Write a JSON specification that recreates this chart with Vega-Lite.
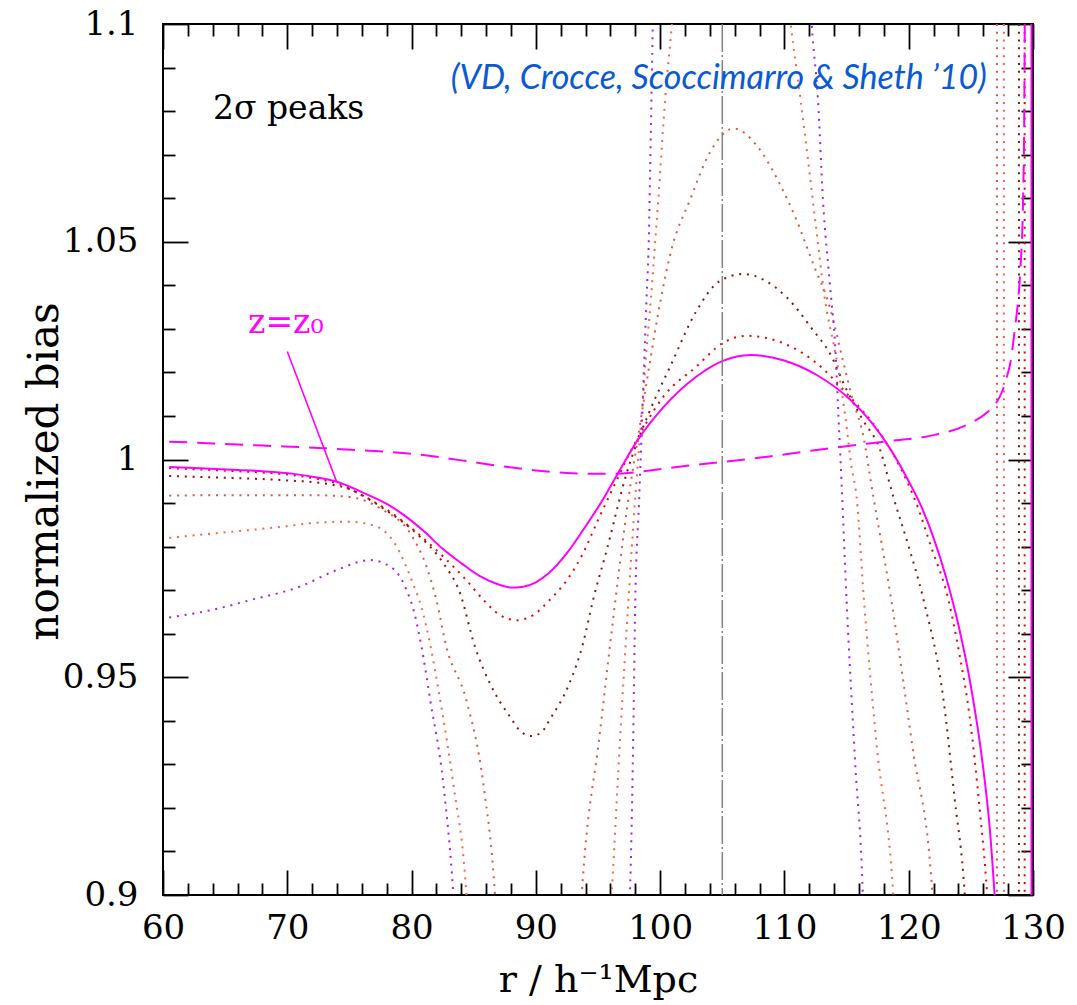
{
"$schema": "https://vega.github.io/schema/vega-lite/v6.json",
"width": 870, "height": 871,
"autosize": {"type": "none"},
"padding": {"left": 163, "top": 24, "right": 44, "bottom": 110},
"background": "white",
"config": {
 "view": {"stroke": "black", "strokeWidth": 2},
 "axis": {"domain": false, "grid": false, "tickColor": "black", "tickWidth": 1.8, "labelFont": "DejaVu Serif", "labelFontSize": 34, "labelColor": "black", "titleFont": "DejaVu Serif", "titleFontSize": 38, "titleFontWeight": "normal", "titleColor": "black", "labelFlush": false, "labelOverlap": false}
},
"datasets": {
 "curves": [
  {"c":"S","s":"S1","r":60.5,"b":0.9983},{"c":"S","s":"S1","r":63,"b":0.998},{"c":"S","s":"S1","r":66,"b":0.9976},{"c":"S","s":"S1","r":68,"b":0.9973},{"c":"S","s":"S1","r":70.5,"b":0.9967},{"c":"S","s":"S1","r":72.5,"b":0.9958},{"c":"S","s":"S1","r":74,"b":0.9949},{"c":"S","s":"S1","r":76,"b":0.9925},{"c":"S","s":"S1","r":78,"b":0.9898},{"c":"S","s":"S1","r":79.5,"b":0.987},{"c":"S","s":"S1","r":81,"b":0.9835},{"c":"S","s":"S1","r":82.5,"b":0.9795},{"c":"S","s":"S1","r":84,"b":0.9762},{"c":"S","s":"S1","r":85.5,"b":0.9732},{"c":"S","s":"S1","r":87,"b":0.9713},{"c":"S","s":"S1","r":88,"b":0.9706},{"c":"S","s":"S1","r":89,"b":0.9708},{"c":"S","s":"S1","r":90,"b":0.9718},{"c":"S","s":"S1","r":91,"b":0.9738},{"c":"S","s":"S1","r":92.5,"b":0.9785},{"c":"S","s":"S1","r":93.8,"b":0.9838},{"c":"S","s":"S1","r":95.2,"b":0.9899},{"c":"S","s":"S1","r":96.6,"b":0.9968},{"c":"S","s":"S1","r":98.2,"b":1.0045},{"c":"S","s":"S1","r":100.2,"b":1.0118},{"c":"S","s":"S1","r":102.9,"b":1.019},{"c":"S","s":"S1","r":105,"b":1.0226},{"c":"S","s":"S1","r":107.3,"b":1.024},{"c":"S","s":"S1","r":109.9,"b":1.0228},{"c":"S","s":"S1","r":112.6,"b":1.0194},{"c":"S","s":"S1","r":115.3,"b":1.0137},{"c":"S","s":"S1","r":117,"b":1.0085},{"c":"S","s":"S1","r":118.5,"b":1.0025},{"c":"S","s":"S1","r":120,"b":0.995},{"c":"S","s":"S1","r":121,"b":0.9893},{"c":"S","s":"S1","r":122,"b":0.982},{"c":"S","s":"S1","r":123,"b":0.973},{"c":"S","s":"S1","r":124,"b":0.962},{"c":"S","s":"S1","r":125,"b":0.948},{"c":"S","s":"S1","r":126,"b":0.929},{"c":"S","s":"S1","r":126.5,"b":0.916},{"c":"S","s":"S1","r":126.9,"b":0.9005},{"c":"S","s":"S1","r":127.0,"b":0.896},
  {"c":"S","s":"S2","r":129.88,"b":0.89},{"c":"S","s":"S2","r":129.88,"b":1.11},
  {"c":"D","s":"D1","r":60.5,"b":1.0041},{"c":"D","s":"D1","r":64,"b":1.0037},{"c":"D","s":"D1","r":68,"b":1.0032},{"c":"D","s":"D1","r":72.9,"b":1.0026},{"c":"D","s":"D1","r":76,"b":1.0021},{"c":"D","s":"D1","r":80.4,"b":1.0012},{"c":"D","s":"D1","r":84,"b":0.9998},{"c":"D","s":"D1","r":87.1,"b":0.9985},{"c":"D","s":"D1","r":90,"b":0.9975},{"c":"D","s":"D1","r":92.5,"b":0.9969},{"c":"D","s":"D1","r":95,"b":0.9967},{"c":"D","s":"D1","r":97,"b":0.9968},{"c":"D","s":"D1","r":99.2,"b":0.9975},{"c":"D","s":"D1","r":102,"b":0.9985},{"c":"D","s":"D1","r":104.9,"b":0.9994},{"c":"D","s":"D1","r":108.5,"b":1.0006},{"c":"D","s":"D1","r":112.6,"b":1.0022},{"c":"D","s":"D1","r":116,"b":1.0034},{"c":"D","s":"D1","r":118,"b":1.0041},{"c":"D","s":"D1","r":122,"b":1.0056},{"c":"D","s":"D1","r":124.65,"b":1.0079},{"c":"D","s":"D1","r":126.3,"b":1.0108},{"c":"D","s":"D1","r":127.0,"b":1.0128},{"c":"D","s":"D1","r":127.5,"b":1.0155},{"c":"D","s":"D1","r":127.9,"b":1.019},{"c":"D","s":"D1","r":128.2,"b":1.0225},{"c":"D","s":"D1","r":128.5,"b":1.029},{"c":"D","s":"D1","r":128.8,"b":1.0366},{"c":"D","s":"D1","r":129.0,"b":1.0443},{"c":"D","s":"D1","r":129.2,"b":1.0596},{"c":"D","s":"D1","r":129.3,"b":1.08},{"c":"D","s":"D1","r":129.35,"b":1.11},
  {"c":"R","s":"R1","r":60.5,"b":0.998},{"c":"R","s":"R1","r":63,"b":0.9977},{"c":"R","s":"R1","r":66,"b":0.9973},{"c":"R","s":"R1","r":68,"b":0.997},{"c":"R","s":"R1","r":70.5,"b":0.9964},{"c":"R","s":"R1","r":72.5,"b":0.9955},{"c":"R","s":"R1","r":74,"b":0.9945},{"c":"R","s":"R1","r":76,"b":0.9918},{"c":"R","s":"R1","r":78,"b":0.9885},{"c":"R","s":"R1","r":80.5,"b":0.983},{"c":"R","s":"R1","r":82.55,"b":0.9777},{"c":"R","s":"R1","r":84.4,"b":0.9723},{"c":"R","s":"R1","r":85.8,"b":0.9677},{"c":"R","s":"R1","r":87.1,"b":0.9643},{"c":"R","s":"R1","r":88.45,"b":0.9631},{"c":"R","s":"R1","r":89.8,"b":0.9643},{"c":"R","s":"R1","r":91.1,"b":0.9677},{"c":"R","s":"R1","r":92.5,"b":0.9723},{"c":"R","s":"R1","r":93.8,"b":0.9785},{"c":"R","s":"R1","r":95.0,"b":0.9861},{"c":"R","s":"R1","r":96.3,"b":0.994},{"c":"R","s":"R1","r":97.4,"b":1.0006},{"c":"R","s":"R1","r":98.8,"b":1.008},{"c":"R","s":"R1","r":100.25,"b":1.0144},{"c":"R","s":"R1","r":102.9,"b":1.0213},{"c":"R","s":"R1","r":105.07,"b":1.0268},{"c":"R","s":"R1","r":106.95,"b":1.0284},{"c":"R","s":"R1","r":109.9,"b":1.0267},{"c":"R","s":"R1","r":112.6,"b":1.0221},{"c":"R","s":"R1","r":115.0,"b":1.0152},{"c":"R","s":"R1","r":117.7,"b":1.006},{"c":"R","s":"R1","r":119.3,"b":0.9983},{"c":"R","s":"R1","r":120.6,"b":0.99},{"c":"R","s":"R1","r":121.8,"b":0.98},{"c":"R","s":"R1","r":123.2,"b":0.9677},{"c":"R","s":"R1","r":124.1,"b":0.955},{"c":"R","s":"R1","r":124.9,"b":0.941},{"c":"R","s":"R1","r":125.7,"b":0.92},{"c":"R","s":"R1","r":126.3,"b":0.9005},{"c":"R","s":"R1","r":126.4,"b":0.896},
  {"c":"R","s":"R2","r":129.33,"b":0.89},{"c":"R","s":"R2","r":129.33,"b":1.11},
  {"c":"B","s":"B1","r":60.5,"b":0.9962},{"c":"B","s":"B1","r":65,"b":0.9958},{"c":"B","s":"B1","r":70,"b":0.9952},{"c":"B","s":"B1","r":73,"b":0.9945},{"c":"B","s":"B1","r":75,"b":0.9932},{"c":"B","s":"B1","r":77.7,"b":0.9888},{"c":"B","s":"B1","r":80.4,"b":0.983},{"c":"B","s":"B1","r":82.55,"b":0.9762},{"c":"B","s":"B1","r":83.9,"b":0.9693},{"c":"B","s":"B1","r":85.1,"b":0.957},{"c":"B","s":"B1","r":86.3,"b":0.9486},{"c":"B","s":"B1","r":87.9,"b":0.941},{"c":"B","s":"B1","r":88.8,"b":0.9375},{"c":"B","s":"B1","r":89.66,"b":0.9365},{"c":"B","s":"B1","r":90.5,"b":0.9375},{"c":"B","s":"B1","r":91.1,"b":0.9402},{"c":"B","s":"B1","r":92.7,"b":0.9486},{"c":"B","s":"B1","r":93.8,"b":0.9578},{"c":"B","s":"B1","r":94.6,"b":0.9677},{"c":"B","s":"B1","r":95.7,"b":0.9792},{"c":"B","s":"B1","r":97.3,"b":0.9968},{"c":"B","s":"B1","r":99.2,"b":1.0114},{"c":"B","s":"B1","r":100.8,"b":1.0213},{"c":"B","s":"B1","r":102.9,"b":1.034},{"c":"B","s":"B1","r":104.8,"b":1.041},{"c":"B","s":"B1","r":106.7,"b":1.0426},{"c":"B","s":"B1","r":108.5,"b":1.041},{"c":"B","s":"B1","r":110.2,"b":1.0372},{"c":"B","s":"B1","r":112.3,"b":1.0297},{"c":"B","s":"B1","r":113.65,"b":1.0244},{"c":"B","s":"B1","r":115.0,"b":1.016},{"c":"B","s":"B1","r":116.3,"b":1.0091},{"c":"B","s":"B1","r":117.7,"b":1.0022},{"c":"B","s":"B1","r":118.75,"b":0.9915},{"c":"B","s":"B1","r":120.0,"b":0.98},{"c":"B","s":"B1","r":121.2,"b":0.9677},{"c":"B","s":"B1","r":122.8,"b":0.9448},{"c":"B","s":"B1","r":123.7,"b":0.922},{"c":"B","s":"B1","r":124.5,"b":0.9005},{"c":"B","s":"B1","r":124.6,"b":0.896},
  {"c":"B","s":"B2","r":128.87,"b":0.89},{"c":"B","s":"B2","r":128.87,"b":1.11},
  {"c":"TA","s":"TA1","r":60.5,"b":0.9917},{"c":"TA","s":"TA1","r":64,"b":0.9918},{"c":"TA","s":"TA1","r":68,"b":0.9918},{"c":"TA","s":"TA1","r":72.4,"b":0.9918},{"c":"TA","s":"TA1","r":75,"b":0.9914},{"c":"TA","s":"TA1","r":77.7,"b":0.9884},{"c":"TA","s":"TA1","r":79.9,"b":0.983},{"c":"TA","s":"TA1","r":81.2,"b":0.9754},{"c":"TA","s":"TA1","r":82.0,"b":0.9677},{"c":"TA","s":"TA1","r":82.8,"b":0.957},{"c":"TA","s":"TA1","r":84.4,"b":0.9448},{"c":"TA","s":"TA1","r":85.77,"b":0.9256},{"c":"TA","s":"TA1","r":86.7,"b":0.9005},{"c":"TA","s":"TA1","r":86.8,"b":0.896},
  {"c":"TA","s":"TA2","r":93.6,"b":0.896},{"c":"TA","s":"TA2","r":93.7,"b":0.9005},{"c":"TA","s":"TA2","r":95.15,"b":0.9371},{"c":"TA","s":"TA2","r":96.4,"b":0.9677},{"c":"TA","s":"TA2","r":97.4,"b":0.99},{"c":"TA","s":"TA2","r":98.4,"b":1.0083},{"c":"TA","s":"TA2","r":99.2,"b":1.0228},{"c":"TA","s":"TA2","r":100.0,"b":1.036},{"c":"TA","s":"TA2","r":100.9,"b":1.0481},{"c":"TA","s":"TA2","r":102.4,"b":1.0596},{"c":"TA","s":"TA2","r":104.0,"b":1.0705},{"c":"TA","s":"TA2","r":105.9,"b":1.076},{"c":"TA","s":"TA2","r":107.8,"b":1.072},{"c":"TA","s":"TA2","r":109.6,"b":1.0634},{"c":"TA","s":"TA2","r":110.97,"b":1.055},{"c":"TA","s":"TA2","r":112.3,"b":1.045},{"c":"TA","s":"TA2","r":113.65,"b":1.035},{"c":"TA","s":"TA2","r":114.7,"b":1.0228},{"c":"TA","s":"TA2","r":115.5,"b":1.0137},{"c":"TA","s":"TA2","r":116.3,"b":1.006},{"c":"TA","s":"TA2","r":117.15,"b":0.9915},{"c":"TA","s":"TA2","r":118.6,"b":0.9677},{"c":"TA","s":"TA2","r":120.3,"b":0.934},{"c":"TA","s":"TA2","r":121.9,"b":0.9005},{"c":"TA","s":"TA2","r":122.0,"b":0.896},
  {"c":"TA","s":"TA3","r":127.1,"b":0.89},{"c":"TA","s":"TA3","r":127.1,"b":1.11},
  {"c":"TB","s":"TB1","r":60.5,"b":0.982},{"c":"TB","s":"TB1","r":64,"b":0.983},{"c":"TB","s":"TB1","r":67,"b":0.9838},{"c":"TB","s":"TB1","r":70,"b":0.9847},{"c":"TB","s":"TB1","r":72.4,"b":0.9855},{"c":"TB","s":"TB1","r":75,"b":0.9857},{"c":"TB","s":"TB1","r":77.2,"b":0.9846},{"c":"TB","s":"TB1","r":78.8,"b":0.98},{"c":"TB","s":"TB1","r":80.1,"b":0.9716},{"c":"TB","s":"TB1","r":80.8,"b":0.966},{"c":"TB","s":"TB1","r":81.5,"b":0.9575},{"c":"TB","s":"TB1","r":82.3,"b":0.9448},{"c":"TB","s":"TB1","r":83.35,"b":0.9256},{"c":"TB","s":"TB1","r":84.4,"b":0.9005},{"c":"TB","s":"TB1","r":84.5,"b":0.896},
  {"c":"TB","s":"TB2","r":96.0,"b":0.896},{"c":"TB","s":"TB2","r":96.1,"b":0.9005},{"c":"TB","s":"TB2","r":96.8,"b":0.9371},{"c":"TB","s":"TB2","r":97.45,"b":0.9677},{"c":"TB","s":"TB2","r":98.0,"b":0.9915},{"c":"TB","s":"TB2","r":98.5,"b":1.0098},{"c":"TB","s":"TB2","r":98.9,"b":1.0251},{"c":"TB","s":"TB2","r":99.25,"b":1.0366},{"c":"TB","s":"TB2","r":99.55,"b":1.0481},{"c":"TB","s":"TB2","r":99.85,"b":1.0596},{"c":"TB","s":"TB2","r":100.4,"b":1.0826},{"c":"TB","s":"TB2","r":100.95,"b":1.1},{"c":"TB","s":"TB2","r":101.1,"b":1.105},
  {"c":"TB","s":"TB3","r":110.3,"b":1.105},{"c":"TB","s":"TB3","r":110.5,"b":1.1},{"c":"TB","s":"TB3","r":111.3,"b":1.0826},{"c":"TB","s":"TB3","r":111.8,"b":1.0711},{"c":"TB","s":"TB3","r":112.6,"b":1.052},{"c":"TB","s":"TB3","r":113.2,"b":1.038},{"c":"TB","s":"TB3","r":114.3,"b":1.0213},{"c":"TB","s":"TB3","r":114.9,"b":1.0098},{"c":"TB","s":"TB3","r":115.4,"b":0.9983},{"c":"TB","s":"TB3","r":115.8,"b":0.9915},{"c":"TB","s":"TB3","r":116.4,"b":0.9677},{"c":"TB","s":"TB3","r":117.4,"b":0.935},{"c":"TB","s":"TB3","r":118.75,"b":0.9005},{"c":"TB","s":"TB3","r":118.85,"b":0.896},
  {"c":"TB","s":"TB4","r":127.66,"b":0.89},{"c":"TB","s":"TB4","r":127.66,"b":1.11},
  {"c":"P","s":"P1","r":60.5,"b":0.9637},{"c":"P","s":"P1","r":64,"b":0.9655},{"c":"P","s":"P1","r":67,"b":0.9677},{"c":"P","s":"P1","r":71,"b":0.9708},{"c":"P","s":"P1","r":73.97,"b":0.9746},{"c":"P","s":"P1","r":76.65,"b":0.9769},{"c":"P","s":"P1","r":78.3,"b":0.9754},{"c":"P","s":"P1","r":79.6,"b":0.97},{"c":"P","s":"P1","r":80.2,"b":0.965},{"c":"P","s":"P1","r":80.8,"b":0.957},{"c":"P","s":"P1","r":81.5,"b":0.9448},{"c":"P","s":"P1","r":82.55,"b":0.9256},{"c":"P","s":"P1","r":83.35,"b":0.9005},{"c":"P","s":"P1","r":83.45,"b":0.896},
  {"c":"P","s":"P2","r":97.5,"b":0.896},{"c":"P","s":"P2","r":97.57,"b":0.9005},{"c":"P","s":"P2","r":97.8,"b":0.93},{"c":"P","s":"P2","r":98.0,"b":0.9677},{"c":"P","s":"P2","r":98.3,"b":0.99},{"c":"P","s":"P2","r":98.5,"b":1.005},{"c":"P","s":"P2","r":98.7,"b":1.0213},{"c":"P","s":"P2","r":98.9,"b":1.0366},{"c":"P","s":"P2","r":99.1,"b":1.052},{"c":"P","s":"P2","r":99.2,"b":1.0672},{"c":"P","s":"P2","r":99.3,"b":1.0826},{"c":"P","s":"P2","r":99.4,"b":1.1},{"c":"P","s":"P2","r":99.42,"b":1.105},
  {"c":"P","s":"P3","r":112.1,"b":1.105},{"c":"P","s":"P3","r":112.2,"b":1.1},{"c":"P","s":"P3","r":112.7,"b":1.0826},{"c":"P","s":"P3","r":113.1,"b":1.0596},{"c":"P","s":"P3","r":113.65,"b":1.0405},{"c":"P","s":"P3","r":114.1,"b":1.0251},{"c":"P","s":"P3","r":114.35,"b":1.0098},{"c":"P","s":"P3","r":114.6,"b":0.9945},{"c":"P","s":"P3","r":115.0,"b":0.9677},{"c":"P","s":"P3","r":115.7,"b":0.93},{"c":"P","s":"P3","r":116.3,"b":0.9005},{"c":"P","s":"P3","r":116.35,"b":0.896}
 ]
},
"resolve": {"axis": {"x": "independent", "y": "independent"}},
"layer": [
 {
  "data": {"name": "curves"},
  "transform": [{"filter": "datum.c != 'S' && datum.c != 'D'"}],
  "mark": {"type": "line", "clip": true, "strokeWidth": 2, "strokeDash": [2, 5.8], "strokeCap": "butt", "interpolate": "monotone"},
  "encoding": {
   "x": {"field": "r", "type": "quantitative", "scale": {"domain": [60, 130], "nice": false, "zero": false},
         "axis": {"orient": "bottom", "values": [60, 70, 80, 90, 100, 110, 120, 130], "tickSize": 25, "offset": -25, "labelPadding": 16, "format": "d", "title": "r / h⁻¹Mpc", "titlePadding": 16}},
   "y": {"field": "b", "type": "quantitative", "scale": {"domain": [0.9, 1.1], "nice": false, "zero": false},
         "axis": {"orient": "left", "values": [0.9, 0.95, 1, 1.05, 1.1], "tickSize": 25, "offset": -25, "labelPadding": 25, "format": "~g", "title": "normalized bias", "titleFontSize": 42, "titlePadding": -4, "titleY": 447}},
   "color": {"field": "c", "type": "nominal", "scale": {"domain": ["P", "TB", "TA", "B", "R"], "range": ["#a020f0", "#ff6347", "#e0553f", "#8b1010", "#ee0000"]}, "legend": null},
   "detail": {"field": "s"}
  }
 },
 {
  "data": {"name": "curves"},
  "transform": [{"filter": "datum.c == 'S'"}],
  "mark": {"type": "line", "clip": true, "strokeWidth": 2, "color": "#ff00ff", "interpolate": "monotone"},
  "encoding": {
   "x": {"field": "r", "type": "quantitative", "scale": {"domain": [60, 130], "nice": false, "zero": false},
         "axis": {"orient": "bottom", "values": [62,64,66,68,72,74,76,78,82,84,86,88,92,94,96,98,102,104,106,108,112,114,116,118,122,124,126,128], "tickSize": 12, "offset": -12, "labels": false, "title": null}},
   "y": {"field": "b", "type": "quantitative", "scale": {"domain": [0.9, 1.1], "nice": false, "zero": false},
         "axis": {"orient": "left", "values": [0.91,0.92,0.93,0.94,0.96,0.97,0.98,0.99,1.01,1.02,1.03,1.04,1.06,1.07,1.08,1.09], "tickSize": 12, "offset": -12, "labels": false, "title": null}},
   "detail": {"field": "s"}
  }
 },
 {
  "data": {"name": "curves"},
  "transform": [{"filter": "datum.c == 'D'"}],
  "mark": {"type": "line", "clip": true, "strokeWidth": 2, "color": "#ff00ff", "strokeDash": [18, 10], "interpolate": "monotone"},
  "encoding": {
   "x": {"field": "r", "type": "quantitative", "scale": {"domain": [60, 130], "nice": false, "zero": false},
         "axis": {"orient": "top", "values": [60, 70, 80, 90, 100, 110, 120, 130], "tickSize": 25, "offset": -25, "labels": false, "title": null}},
   "y": {"field": "b", "type": "quantitative", "scale": {"domain": [0.9, 1.1], "nice": false, "zero": false},
         "axis": {"orient": "right", "values": [0.9, 0.95, 1, 1.05, 1.1], "tickSize": 25, "offset": -25, "labels": false, "title": null}}
  }
 },
 {
  "data": {"values": [{"r": 105}]},
  "mark": {"type": "rule", "color": "#808080", "strokeWidth": 1.5, "strokeDash": [28, 3, 2, 3]},
  "encoding": {
   "x": {"field": "r", "type": "quantitative", "scale": {"domain": [60, 130], "nice": false, "zero": false},
         "axis": {"orient": "top", "values": [62,64,66,68,72,74,76,78,82,84,86,88,92,94,96,98,102,104,106,108,112,114,116,118,122,124,126,128], "tickSize": 12, "offset": -12, "labels": false, "title": null}}
  }
 },
 {
  "data": {"values": [{"r": 70.0, "b": 1.0248, "r2": 73.97, "b2": 0.9949}]},
  "mark": {"type": "rule", "color": "#ff00ff", "strokeWidth": 1.6},
  "encoding": {
   "x": {"field": "r", "type": "quantitative", "scale": {"domain": [60, 130], "nice": false, "zero": false}, "axis": null},
   "x2": {"field": "r2"},
   "y": {"field": "b", "type": "quantitative", "scale": {"domain": [0.9, 1.1], "nice": false, "zero": false},
         "axis": {"orient": "right", "values": [0.91,0.92,0.93,0.94,0.96,0.97,0.98,0.99,1.01,1.02,1.03,1.04,1.06,1.07,1.08,1.09], "tickSize": 12, "offset": -12, "labels": false, "title": null}},
   "y2": {"field": "b2"}
  }
 },
 {
  "data": {"values": [{"t": "2σ peaks", "r": 64.02, "b": 1.0782}]},
  "mark": {"type": "text", "align": "left", "baseline": "alphabetic", "font": "DejaVu Serif", "fontSize": 33, "color": "black"},
  "encoding": {
   "x": {"field": "r", "type": "quantitative", "scale": {"domain": [60, 130], "nice": false, "zero": false}, "axis": null},
   "y": {"field": "b", "type": "quantitative", "scale": {"domain": [0.9, 1.1], "nice": false, "zero": false}, "axis": null},
   "text": {"field": "t"}
  }
 },
 {
  "data": {"values": [{"t": "z=z₀", "r": 66.84, "b": 1.029}]},
  "mark": {"type": "text", "align": "left", "baseline": "alphabetic", "font": "DejaVu Serif", "fontSize": 33, "color": "#ff00ff"},
  "encoding": {
   "x": {"field": "r", "type": "quantitative", "scale": {"domain": [60, 130], "nice": false, "zero": false}, "axis": null},
   "y": {"field": "b", "type": "quantitative", "scale": {"domain": [0.9, 1.1], "nice": false, "zero": false}, "axis": null},
   "text": {"field": "t"}
  }
 },
 {
  "data": {"values": [{"t": "(VD, Crocce, Scoccimarro & Sheth ’10)", "r": 126.29, "b": 1.085}]},
  "mark": {"type": "text", "align": "right", "baseline": "alphabetic", "font": "Lato", "fontStyle": "italic", "fontSize": 34, "color": "#0a5ad4"},
  "encoding": {
   "x": {"field": "r", "type": "quantitative", "scale": {"domain": [60, 130], "nice": false, "zero": false}, "axis": null},
   "y": {"field": "b", "type": "quantitative", "scale": {"domain": [0.9, 1.1], "nice": false, "zero": false}, "axis": null},
   "text": {"field": "t"}
  }
 }
]
}
